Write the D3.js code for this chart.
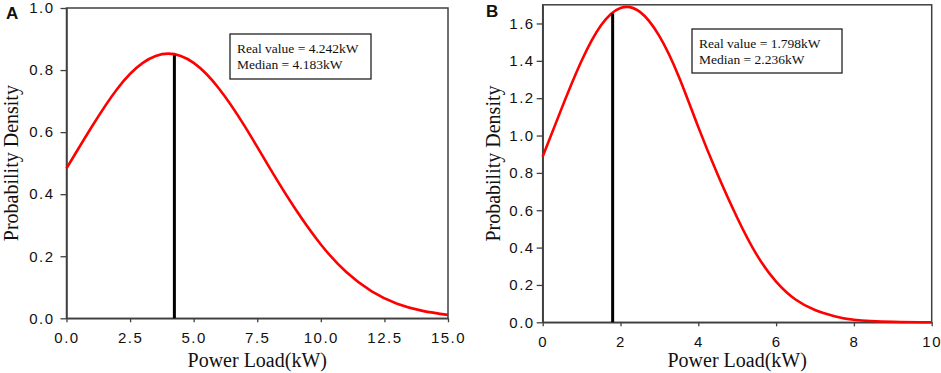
<!DOCTYPE html>
<html>
<head>
<meta charset="utf-8">
<script src="https://cdn.jsdelivr.net/npm/d3@7"></script>
<style>
  body { margin: 0; background: #fff; }
  .tick text { font-family: "Liberation Sans", Arial, sans-serif; font-size: 15px; letter-spacing: 1.5px; fill: #111; }
  .serif { font-family: "Liberation Serif", "Times New Roman", serif; fill: #111; }
</style>
</head>
<body>
<svg id="chart" width="941" height="373"></svg>
<script>
// panel A
const loadA = [0, 1, 2, 3, 4, 5, 6, 7, 8, 9, 10, 11, 12, 13, 14, 15];
const densityA = [0.483, 0.618, 0.740, 0.823, 0.853, 0.823, 0.740, 0.620, 0.483, 0.352, 0.238, 0.149, 0.087, 0.047, 0.024, 0.011];
const xTicksA = [0, 2.5, 5, 7.5, 10, 12.5, 15];
const yTicksA = [0, 0.2, 0.4, 0.6, 0.8, 1.0];
const realA = 4.242, medianA = 4.183, realDensityA = 0.848;

// panel B
const loadB = [0, 0.5, 1, 1.5, 2, 2.5, 3, 3.5, 4, 4.5, 5, 5.5, 6, 6.5, 7, 7.5, 8, 9, 10];
const densityB = [0.888, 1.152, 1.400, 1.590, 1.683, 1.662, 1.532, 1.315, 1.045, 0.790, 0.560, 0.362, 0.218, 0.122, 0.066, 0.033, 0.014, 0.003, 0.0005];
const xTicksB = [0, 2, 4, 6, 8, 10];
const yTicksB = [0, 0.2, 0.4, 0.6, 0.8, 1.0, 1.2, 1.4, 1.6];
const realB = 1.798, medianB = 2.236, realDensityB = 1.653;

const svg = d3.select("#chart");
svg.append("rect").attr("width", 941).attr("height", 373).attr("fill", "#fff");

function drawPanel(p) {
    const x = d3.scaleLinear().domain(p.xDomain).range([p.left, p.right]);
    const y = d3.scaleLinear().domain(p.yDomain).range([p.bottom, p.top]);
    const g = svg.append("g");

    // frame
    g.append("rect")
        .attr("x", p.left).attr("y", p.top)
        .attr("width", p.right - p.left).attr("height", p.bottom - p.top)
        .attr("fill", "none").attr("stroke", "#404040").attr("stroke-width", 1.5);

    const xAxis = g.append("g")
        .attr("transform", `translate(0,${p.bottom})`)
        .call(d3.axisBottom(x).tickValues(p.xTicks).tickFormat(p.xFormat).tickSize(4).tickPadding(10).tickSizeOuter(0));
    const yAxis = g.append("g")
        .attr("transform", `translate(${p.left},0)`)
        .call(d3.axisLeft(y).tickValues(p.yTicks).tickFormat(d3.format(".1f")).tickSize(6).tickPadding(p.yPad).tickSizeOuter(0));
    [xAxis, yAxis].forEach(a => {
        a.select(".domain").attr("stroke", "#404040").attr("stroke-width", 1.5);
        a.selectAll(".tick line").attr("stroke", "#404040").attr("stroke-width", 1.3);
    });

    // density curve
    const line = d3.line()
        .x((d, i) => x(p.load[i]))
        .y(d => y(d))
        .curve(d3.curveNatural);
    g.append("path")
        .datum(p.density)
        .attr("d", line)
        .attr("fill", "none")
        .attr("stroke", "#ff0000")
        .attr("stroke-width", 2.6);

    // real value marker
    g.append("line")
        .attr("x1", x(p.real)).attr("x2", x(p.real))
        .attr("y1", y(0)).attr("y2", y(p.realDensity))
        .attr("stroke", "#000").attr("stroke-width", 3);

    // info box
    g.append("rect")
        .attr("x", p.box[0]).attr("y", p.box[1])
        .attr("width", p.box[2]).attr("height", p.box[3])
        .attr("fill", "#fff").attr("stroke", "#222").attr("stroke-width", 1.3);
    g.append("text").attr("class", "serif")
        .attr("x", p.box[0] + 7).attr("y", p.box[1] + 19)
        .attr("font-size", 13.5)
        .text(`Real value = ${p.real.toFixed(3)}kW`);
    g.append("text").attr("class", "serif")
        .attr("x", p.box[0] + 7).attr("y", p.box[1] + 35)
        .attr("font-size", 13.5)
        .text(`Median = ${p.median.toFixed(3)}kW`);

    // axis titles
    g.append("text").attr("class", "serif")
        .attr("x", (p.left + p.right) / 2).attr("y", 367)
        .attr("text-anchor", "middle").attr("font-size", 20)
        .text("Power Load(kW)");
    g.append("text").attr("class", "serif")
        .attr("transform", `translate(${p.yTitleX},${(p.top + p.bottom) / 2}) rotate(-90)`)
        .attr("text-anchor", "middle").attr("font-size", 20)
        .text("Probability Density");

    // panel letter
    g.append("text")
        .attr("x", p.letterX).attr("y", p.letterY)
        .attr("font-family", "Liberation Sans, Arial, sans-serif")
        .attr("font-weight", "bold").attr("font-size", 17)
        .attr("fill", "#111")
        .text(p.letter);
}

drawPanel({
    letter: "A", letterX: 6, letterY: 19,
    load: loadA, density: densityA,
    xDomain: [0, 15], yDomain: [0, 1.0],
    xTicks: xTicksA, yTicks: yTicksA, xFormat: d3.format(".1f"),
    left: 66.5, right: 448, top: 8, bottom: 318.3, yPad: 6,
    real: realA, median: medianA, realDensity: realDensityA,
    box: [230, 34, 141, 45], yTitleX: 18
});

drawPanel({
    letter: "B", letterX: 486, letterY: 17,
    load: loadB, density: densityB,
    xDomain: [0, 10], yDomain: [0, 1.7],
    xTicks: xTicksB, yTicks: yTicksB, xFormat: d3.format("d"),
    left: 542.7, right: 931.7, top: 4.8, bottom: 322.3, yPad: 2,
    real: realB, median: medianB, realDensity: realDensityB,
    box: [692, 29, 150, 44], yTitleX: 500
});
</script>
</body>
</html>
